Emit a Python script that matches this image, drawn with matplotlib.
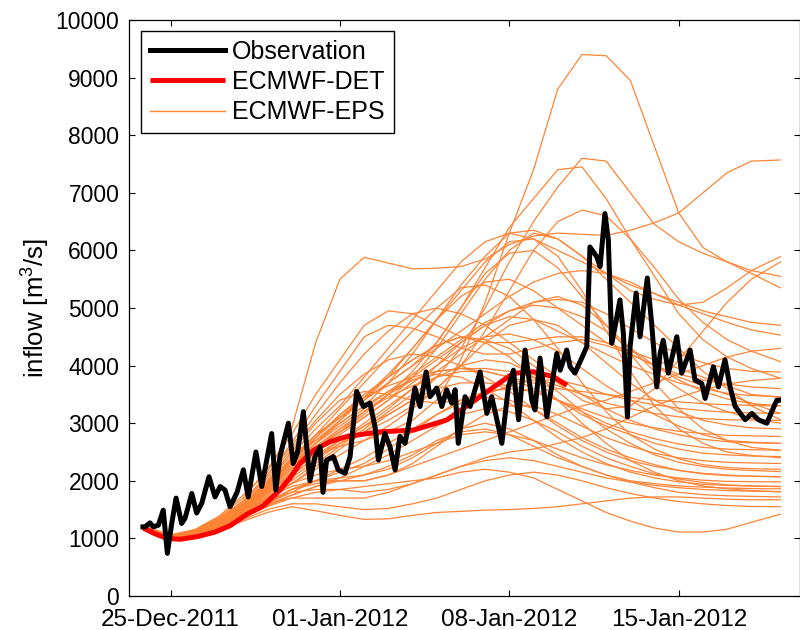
import matplotlib
matplotlib.use('Agg')
import matplotlib.pyplot as plt
import numpy as np

plt.rcParams['font.family'] = ['Liberation Sans', 'DejaVu Sans']
plt.rcParams['mathtext.default'] = 'regular'

# time axis: days counted from 25-Dec-2011 00:00
tick_days = [0, 7, 14, 21]
tick_labels = ['25-Dec-2011', '01-Jan-2012', '08-Jan-2012', '15-Jan-2012']
y_ticks = [0, 1000, 2000, 3000, 4000, 5000, 6000, 7000, 8000, 9000, 10000]

obs_label = 'Observation'
det_label = 'ECMWF-DET'
eps_label = 'ECMWF-EPS'

obs_color = 'black'
det_color = '#ff0000'
eps_color = '#ff8436'

####################### observation (hourly)
obs_day = [-1.14, -1.05, -0.85, -0.71, -0.50, -0.30, -0.13, 0.05, 0.23, 0.46,
           0.60, 0.88, 1.08, 1.29, 1.59, 1.84, 2.05, 2.25, 2.46, 2.75,
           3.01, 3.21, 3.53, 3.77, 4.18, 4.35, 4.52, 4.87, 5.07, 5.25,
           5.49, 5.76, 5.97, 6.18, 6.30, 6.45, 6.73, 6.93, 7.21, 7.42,
           7.69, 7.97, 8.24, 8.45, 8.59, 8.86, 9.07, 9.28, 9.48, 9.69,
           9.90, 10.10, 10.31, 10.56, 10.72, 11.00, 11.21, 11.41, 11.62, 11.76,
           11.89, 12.17, 12.38, 12.79, 13.07, 13.27, 13.55, 13.69, 13.96, 14.17,
           14.38, 14.65, 14.93, 15.06, 15.27, 15.55, 15.96, 16.10, 16.37, 16.51,
           16.71, 16.99, 17.20, 17.33, 17.61, 17.75, 17.95, 18.09, 18.23, 18.37,
           18.57, 18.71, 18.88, 18.99, 19.24, 19.40, 19.70, 19.88, 20.09, 20.23,
           20.36, 20.57, 20.92, 21.12, 21.47, 21.67, 21.95, 22.09, 22.29, 22.43,
           22.64, 22.91, 23.12, 23.33, 23.74, 24.02, 24.29, 24.64, 24.84, 25.05,
           25.12]
obs_flow = [1200, 1200, 1270, 1200, 1230, 1490, 740, 1260, 1700, 1260,
            1350, 1780, 1440, 1610, 2070, 1720, 1900, 1840, 1550, 1800,
            2190, 1720, 2500, 1900, 2820, 1840, 2420, 3000, 2300, 2500,
            3200, 2000, 2420, 2590, 1800, 2360, 2420, 2190, 2130, 2420,
            3550, 3290, 3350, 2940, 2360, 2820, 2590, 2190, 2770, 2650,
            3110, 3610, 3290, 3890, 3460, 3610, 3290, 3580, 3350, 3580,
            2650, 3460, 3290, 3890, 3170, 3460, 2940, 2650, 3630, 3920,
            3060, 4270, 3400, 3230, 4130, 3110, 4210, 3920, 4270, 3980,
            3870, 4130, 4330, 6060, 5890, 5720, 6640, 6180, 4390, 4680,
            5140, 4560, 3110, 4330, 5260, 4500, 5520, 4730, 3630, 4210,
            4440, 3870, 4500, 3870, 4270, 3750, 3690, 3430, 3750, 3980,
            3630, 4100, 3630, 3290, 3060, 3170, 3060, 3000, 3200, 3400,
            3400]

####################### deterministic forecast
det_day = [-1.13, -0.64, -0.15, 0.4, 1.1, 1.84, 2.46, 3.16, 3.82, 4.52, 4.94, 5.35,
           5.9, 6.6, 7.29, 8.66, 10.04, 11.41, 12.79, 14.16, 14.98, 15.8, 16.38]
det_flow = [1180, 1080, 1000, 985, 1030, 1110, 1220, 1420, 1560, 1840, 2050, 2300,
            2530, 2680, 2770, 2850, 2880, 3055, 3460, 3866, 3894, 3810, 3660]

####################### ensemble members (daily values)
eps_day = [-1.1, 0, 1, 2, 3, 4, 5, 6, 7, 8, 9, 10, 11, 12, 13, 14, 15, 16, 17,
           18, 19, 20, 21, 22, 23, 24, 25.2]
eps_flow = [
    [1200,1040,1100,1270,1500,1850,2200,2450,2600,2700,2850,3050,3400,4100,5100,6300,7400,8800,9400,9380,8950,7800,6650,6050,5800,5600,5350],
    [1210,1060,1150,1380,1750,2150,2900,4400,5500,5880,5780,5680,5690,5720,5850,6100,6250,6300,6280,6260,6350,6480,6650,7000,7350,7550,7570],
    [1200,1040,1100,1260,1480,1800,2150,2450,2700,2950,3150,3400,3800,4300,5000,5800,6500,7100,7600,7550,7000,6450,6150,5950,5800,5650,5550],
    [1200,1050,1120,1300,1550,1950,2400,2800,3100,3400,3700,4000,4400,5000,5700,6400,6900,7400,7450,6900,6200,5550,4900,4450,4150,3950,3780],
    [1200,1040,1090,1250,1470,1780,2100,2400,2650,2850,3050,3300,3600,4000,4600,5300,6000,6500,6700,6600,6200,5700,5150,4750,4450,4250,4070],
    [1200,1050,1120,1320,1580,1950,2350,2700,3000,3300,3700,4200,4800,5400,5900,6300,6350,6200,5900,5500,5100,4700,4300,3900,3600,3300,3060],
    [1190,1040,1100,1270,1500,1850,2250,2550,2850,3100,3400,3800,4300,4900,5500,6000,6300,6200,5900,5600,5300,5150,5050,5100,5350,5650,5890],
    [1200,1045,1110,1290,1530,1900,2350,2750,3150,3500,3800,4100,4350,4500,4450,4300,4000,3700,3400,3250,3300,3600,4100,4600,5100,5500,5800],
    [1200,1050,1130,1330,1600,2000,2450,2900,3300,3800,4300,4800,5300,5800,6150,6300,6200,6000,5800,5600,5400,5250,5100,4950,4850,4750,4700],
    [1210,1050,1120,1310,1570,1950,2400,2800,3100,3400,3700,4000,4300,4600,4900,5200,5450,5600,5650,5600,5450,5250,5050,4900,4750,4620,4530],
    [1200,1060,1150,1380,1700,2200,2800,3500,4100,4700,4950,4900,4700,4500,4400,4400,4450,4500,4500,4400,4250,4100,3950,3800,3650,3500,3450],
    [1200,1050,1140,1350,1650,2100,2650,3300,3900,4500,4700,4650,4500,4300,4200,4200,4300,4400,4450,4350,4200,4000,3800,3650,3500,3350,3170],
    [1200,1045,1110,1290,1530,1880,2250,2600,2900,3200,3500,3800,4100,4400,4700,4950,5100,5150,5100,4900,4650,4400,4200,4050,3950,3900,3890],
    [1200,1050,1130,1320,1600,1980,2350,2700,3050,3400,3800,4300,4800,5200,5450,5500,5300,5000,4700,4400,4200,4000,3850,3750,3680,3630,3600],
    [1200,1040,1090,1250,1460,1750,2050,2350,2650,2950,3250,3600,4000,4400,4700,4850,4800,4600,4400,4200,4000,3850,3700,3600,3520,3480,3460],
    [1200,1040,1100,1260,1480,1800,2150,2500,2850,3200,3500,3750,3900,3950,3900,3800,3700,3600,3550,3500,3450,3400,3370,3340,3320,3310,3300],
    [1200,1040,1100,1270,1500,1830,2200,2550,2850,3150,3500,3900,4400,5000,5600,5950,6000,5700,5200,4700,4300,3900,3600,3350,3200,3080,3000],
    [1200,1040,1090,1240,1450,1700,1950,2200,2450,2700,2950,3250,3600,4000,4400,4700,4800,4700,4400,4050,3700,3400,3200,3050,2970,2920,2900],
    [1190,1035,1080,1220,1420,1680,1950,2250,2550,2850,3150,3400,3600,3700,3700,3650,3550,3400,3250,3100,3000,2920,2860,2820,2790,2780,2770],
    [1200,1040,1100,1260,1480,1800,2150,2500,2800,3100,3400,3700,4000,4300,4500,4550,4450,4250,3950,3650,3400,3150,2950,2800,2700,2670,2650],
    [1190,1030,1070,1200,1380,1600,1850,2000,2150,2300,2550,2850,3150,3400,3550,3600,3550,3400,3200,3000,2850,2730,2640,2580,2550,2540,2530],
    [1200,1040,1100,1270,1500,1850,2200,2550,2900,3200,3450,3650,3800,3900,3900,3800,3600,3400,3150,2950,2800,2650,2550,2480,2450,2430,2420],
    [1190,1030,1075,1210,1400,1640,1850,1950,2000,2000,2100,2300,2600,2900,3150,3300,3300,3150,2950,2750,2600,2480,2400,2350,2320,2310,2300],
    [1200,1040,1090,1240,1450,1720,2000,2300,2600,2900,3200,3500,3800,4000,4100,4050,3850,3550,3200,2900,2650,2450,2320,2250,2200,2180,2160],
    [1190,1030,1070,1200,1380,1600,1800,2000,2200,2400,2650,2900,3150,3350,3450,3400,3250,3000,2750,2550,2400,2280,2180,2120,2090,2080,2070],
    [1200,1035,1080,1230,1430,1700,1950,2100,2200,2250,2350,2500,2650,2800,2850,2800,2700,2550,2400,2280,2180,2100,2050,2010,1990,1985,1980],
    [1190,1030,1070,1200,1380,1580,1750,1900,2050,2250,2450,2700,2950,3150,3250,3200,3050,2850,2600,2400,2250,2120,2030,1970,1930,1910,1900],
    [1200,1040,1090,1240,1420,1650,1800,1850,1850,1800,1850,1950,2100,2250,2350,2400,2350,2250,2150,2050,1980,1920,1880,1850,1830,1820,1810],
    [1190,1030,1070,1210,1400,1620,1850,2000,2050,2100,2200,2400,2650,2900,3000,2900,2700,2450,2250,2100,1980,1880,1800,1760,1740,1730,1720],
    [1190,1030,1065,1190,1360,1560,1750,1900,2000,2100,2250,2450,2700,2850,2900,2800,2600,2400,2250,2100,2000,1950,1910,1890,1875,1865,1860],
    [1190,1025,1060,1180,1330,1500,1600,1600,1550,1500,1520,1600,1700,1850,2000,2100,2150,2100,2000,1880,1780,1700,1640,1600,1570,1555,1550],
    [1190,1030,1070,1200,1370,1550,1700,1800,1850,1900,1950,2000,2050,2150,2200,2150,2050,1850,1650,1450,1300,1180,1110,1110,1160,1280,1420],
    [1190,1025,1055,1160,1300,1450,1550,1480,1400,1330,1340,1400,1450,1470,1490,1500,1520,1550,1600,1650,1700,1720,1720,1700,1680,1670,1670],
    [1200,1045,1120,1320,1600,2000,2500,3000,3400,3550,3500,3400,3350,3400,3500,3650,3750,3750,3650,3500,3400,3320,3260,3220,3190,3180,3170],
    [1200,1040,1100,1280,1520,1880,2300,2750,3150,3450,3650,3800,3900,3950,3950,3900,3800,3650,3500,3350,3250,3170,3110,3080,3060,3055,3050],
    [1200,1050,1140,1350,1650,2100,2600,3150,3700,4200,4600,4900,5000,4900,4700,4400,4100,3800,3500,3250,3050,2900,2800,2720,2680,2660,2650],
    [1200,1040,1100,1270,1500,1850,2250,2650,3050,3450,3850,4300,4800,5300,5800,6150,6200,5900,5300,4600,3900,3300,2900,2650,2500,2440,2400],
    [1200,1045,1110,1300,1560,1930,2350,2800,3250,3700,4150,4600,5000,5350,5400,5200,4800,4300,3700,3200,2800,2550,2380,2280,2230,2210,2200],
    [1200,1035,1080,1230,1430,1700,1900,2000,2000,2000,2100,2250,2400,2550,2700,2850,3000,3150,3300,3400,3550,3700,3850,4000,4150,4250,4300],
    [1190,1030,1070,1210,1400,1600,1700,1700,1700,1700,1800,1950,2100,2250,2400,2500,2550,2650,2750,2900,3100,3300,3450,3580,3680,3740,3780],
    [1200,1050,1130,1340,1630,2050,2550,3050,3500,3850,4100,4200,4150,4000,3800,3550,3250,2950,2700,2500,2350,2250,2180,2130,2100,2080,2070],
    [1200,1045,1110,1300,1560,1920,2300,2650,3000,3300,3550,3750,3850,3800,3600,3350,3050,2750,2500,2300,2150,2050,1980,1940,1920,1910,1900],
    [1200,1040,1090,1250,1470,1780,2100,2400,2700,3000,3300,3600,3900,4200,4500,4800,5100,5200,5050,4700,4200,3700,3250,2900,2700,2580,2530],
    [1200,1045,1120,1310,1580,1950,2350,2750,3100,3450,3800,4100,4350,4500,4400,4150,3800,3400,3000,2650,2350,2150,2000,1910,1860,1830,1810],
    [1200,1045,1110,1290,1540,1900,2300,2650,2950,3250,3550,3850,4150,4450,4750,4950,5050,5000,4850,4600,4300,4000,3750,3550,3420,3340,3300],
]

fig = plt.figure(figsize=(8, 6.3), dpi=100)
ax = fig.add_axes([129/800, 34/630, 671.5/800, 576/630])

eps = np.array(eps_flow)
for member in eps:
    ax.plot(eps_day, member, color=eps_color, lw=0.9, zorder=1)
det_line, = ax.plot(det_day, det_flow, color=det_color, lw=3.6, zorder=2,
                    solid_capstyle='butt')
obs_line, = ax.plot(obs_day, obs_flow, color=obs_color, lw=3.6, zorder=3,
                    solid_joinstyle='round')
eps_proxy, = ax.plot([], [], color=eps_color, lw=1.0)

ax.set_xlim(-1.715, 26.03)
ax.set_ylim(0, 10000)
ax.set_xticks(tick_days)
ax.set_xticklabels(tick_labels)
ax.set_yticks(y_ticks)
ax.tick_params(direction='in', length=4, width=0.8, top=True, right=True,
               labelsize=16.5)
ax.tick_params(axis='x', labelsize=17.5, pad=9)
ax.tick_params(axis='y', pad=7)
for sp in ax.spines.values():
    sp.set_linewidth(0.9)

ax.set_ylabel('inflow [m$^3$/s]', fontsize=18.5)
ax.yaxis.set_label_coords(-0.115, 0.5)

leg = ax.legend([obs_line, det_line, eps_proxy], [obs_label, det_label, eps_label],
                loc='upper left', bbox_to_anchor=(12/671, 1 - 11/576),
                borderaxespad=0, fontsize=18, handlelength=3.0,
                handletextpad=0.3, labelspacing=0.25, borderpad=0.35,
                fancybox=False, framealpha=1, edgecolor='black')
leg.get_frame().set_linewidth(1.0)

plt.savefig('out.png', dpi=100)
